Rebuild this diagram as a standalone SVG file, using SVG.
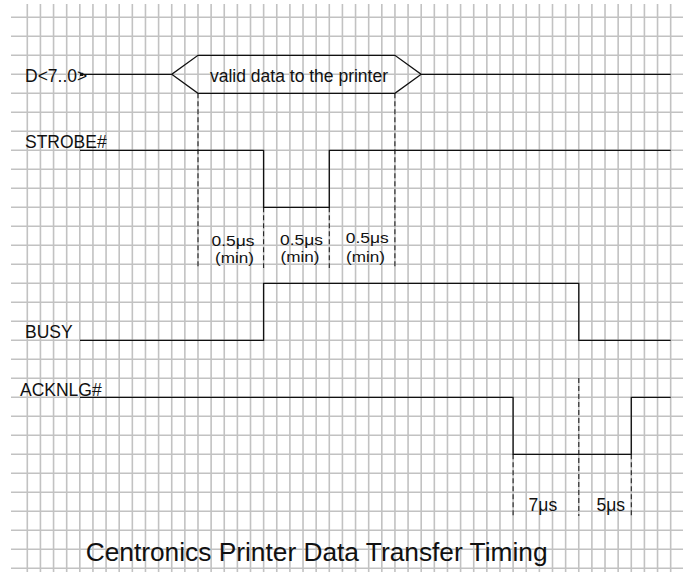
<svg xmlns="http://www.w3.org/2000/svg" width="683" height="572" viewBox="0 0 683 572">
<style>
.grid{stroke:#c2c2c2;stroke-width:1.6;fill:none}
.sig{stroke:#111;stroke-width:1.3;fill:none}
.dash{stroke:#222;stroke-width:1.1;fill:none;stroke-dasharray:5 3}
text{font-family:"Liberation Sans",Arial,sans-serif;fill:#111}
.lbl{font-size:17.5px}
.sm{font-size:15.5px}
.title{font-size:26.3px}
</style>
<rect width="683" height="572" fill="#fff"/>
<g id="grid">
<path class="grid" d="M27.30 4V572M40.43 4V572M53.56 4V572M66.69 4V572M79.82 4V572M92.95 4V572M106.08 4V572M119.21 4V572M132.34 4V572M145.47 4V572M158.60 4V572M171.73 4V572M184.86 4V572M197.99 4V572M211.12 4V572M224.25 4V572M237.38 4V572M250.51 4V572M263.64 4V572M276.77 4V572M289.90 4V572M303.03 4V572M316.16 4V572M329.29 4V572M342.42 4V572M355.55 4V572M368.68 4V572M381.81 4V572M394.94 4V572M408.07 4V572M421.20 4V572M434.33 4V572M447.46 4V572M460.59 4V572M473.72 4V572M486.85 4V572M499.98 4V572M513.11 4V572M526.24 4V572M539.37 4V572M552.50 4V572M565.63 4V572M578.76 4V572M591.89 4V572M605.02 4V572M618.15 4V572M631.28 4V572M644.41 4V572M657.54 4V572M670.67 4V572"/>
<path class="grid" d="M11 17.3H683M11 36.3H683M11 55.3H683M11 74.3H683M11 93.3H683M11 112.3H683M11 131.3H683M11 150.3H683M11 169.3H683M11 188.3H683M11 207.3H683M11 226.3H683M11 245.3H683M11 264.3H683M11 283.3H683M11 302.3H683M11 321.3H683M11 340.3H683M11 359.3H683M11 378.3H683M11 397.3H683M11 416.3H683M11 435.3H683M11 454.3H683M11 473.3H683M11 492.3H683M11 511.3H683M11 530.3H683M11 549.3H683M11 568.3H683"/>
</g>
<g id="connectors">
<path class="dash" d="M198 93.3V268M394.9 93.3V268M263.6 207.3V268M329.3 207.3V268"/>
<path class="dash" d="M513.1 454.3V516M578.8 378V516M631.3 454.3V516"/>
</g>
<g id="sig-data">
<text class="lbl" x="25" y="81.7">D&lt;7..0&gt;</text>
<rect x="80" y="72.8" width="3.2" height="3.2" fill="#111"/>
<path class="sig" d="M82 74.3H171.7L198 55.3H394.9L421.2 74.3H670.7M171.7 74.3L198 93.3H394.9L421.2 74.3"/>
<text class="lbl" x="210" y="81.7">valid data to the printer</text>
</g>
<g id="sig-strobe">
<text class="lbl" x="25" y="148.3">STROBE#</text>
<path class="sig" d="M80 150.3H263.6V207.3H329.3V150.3H670.7"/>
</g>
<g id="timing-strobe">
<text class="sm" x="211.5" y="246" textLength="43" lengthAdjust="spacingAndGlyphs">0.5μs</text>
<text class="sm" x="215" y="262.5" textLength="39" lengthAdjust="spacingAndGlyphs">(min)</text>
<text class="sm" x="280" y="244.5" textLength="43" lengthAdjust="spacingAndGlyphs">0.5μs</text>
<text class="sm" x="280.5" y="262" textLength="39" lengthAdjust="spacingAndGlyphs">(min)</text>
<text class="sm" x="345.7" y="243" textLength="43" lengthAdjust="spacingAndGlyphs">0.5μs</text>
<text class="sm" x="346" y="261.5" textLength="39" lengthAdjust="spacingAndGlyphs">(min)</text>
</g>
<g id="sig-busy">
<text class="lbl" x="25" y="338">BUSY</text>
<path class="sig" d="M80 340.3H263.6V283.3H578.8V340.3H670.7"/>
</g>
<g id="sig-acknlg">
<text class="lbl" x="20" y="396">ACKNLG#</text>
<path class="sig" d="M80 397.3H513.1V454.3H631.3V397.3H670.7"/>
</g>
<g id="timing-ack">
<text class="lbl" x="528.6" y="511">7μs</text>
<text class="lbl" x="596.5" y="511">5μs</text>
</g>
<g id="title">
<text class="title" x="85.7" y="561">Centronics Printer Data Transfer Timing</text>
</g>
</svg>
